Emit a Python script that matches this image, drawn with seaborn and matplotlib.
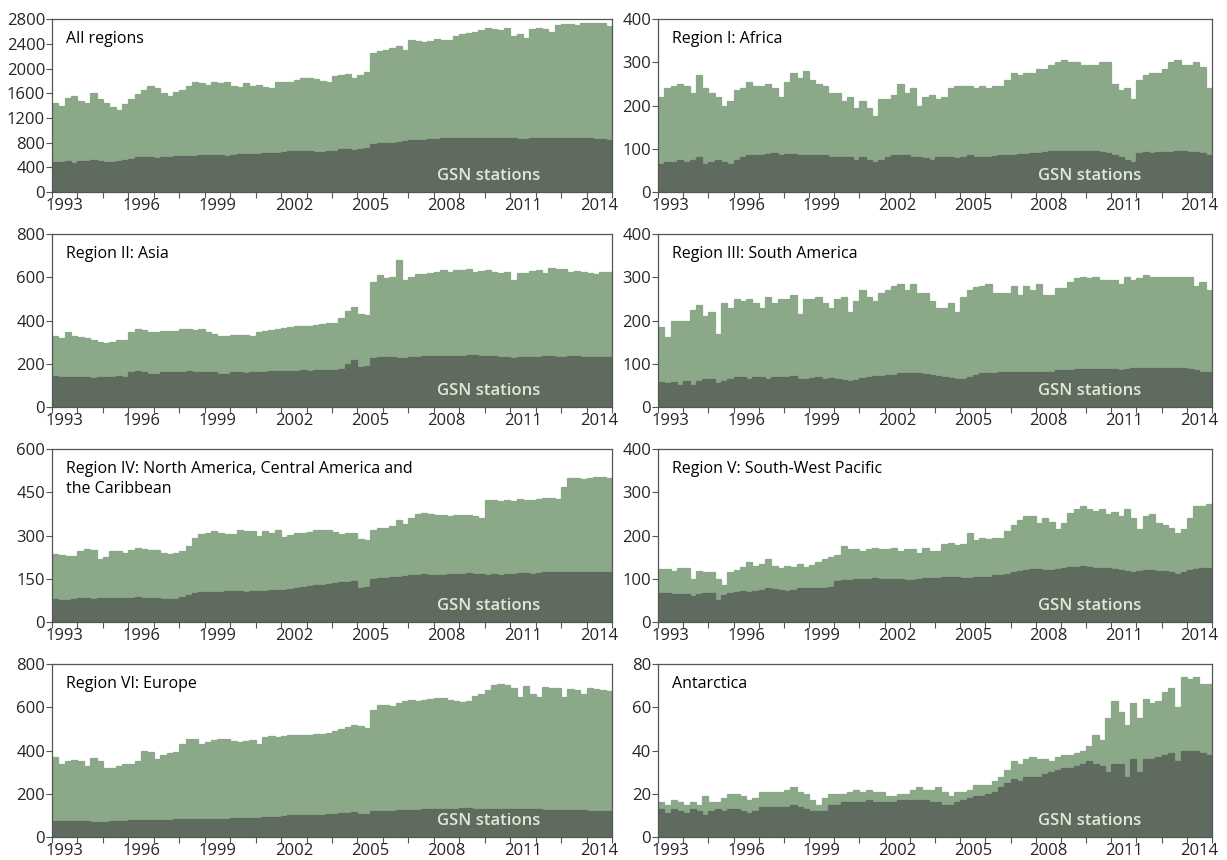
import numpy as np
import matplotlib
matplotlib.use("Agg")
import matplotlib.pyplot as plt
import seaborn as sns

# quarterly station counts, 1993 Q1 .. 2014 Q4
years = list(range(1993, 2015))

all_total = [1450, 1400, 1520, 1560, 1480, 1450, 1600, 1500, 1450, 1380, 1330, 1430,
             1500, 1580, 1650, 1720, 1680, 1600, 1560, 1620, 1650, 1720, 1780, 1760,
             1740, 1780, 1760, 1780, 1720, 1700, 1760, 1720, 1740, 1700, 1680, 1780,
             1780, 1790, 1820, 1850, 1850, 1830, 1800, 1780, 1880, 1900, 1920, 1850,
             1900, 1950, 2260, 2280, 2300, 2330, 2370, 2300, 2460, 2440, 2430, 2440,
             2480, 2460, 2470, 2520, 2560, 2580, 2600, 2620, 2650, 2640, 2620, 2650,
             2520, 2560, 2500, 2640, 2650, 2640, 2600, 2700, 2720, 2720, 2700, 2740,
             2740, 2740, 2730, 2690]
all_gsn = [490, 480, 500, 470, 500, 510, 520, 500, 480, 490, 510, 520,
           540, 560, 570, 560, 550, 560, 570, 580, 580, 580, 590, 600,
           600, 600, 600, 590, 600, 610, 610, 620, 620, 630, 640, 640,
           650, 660, 670, 670, 660, 650, 650, 660, 670, 690, 700, 680,
           690, 720, 780, 790, 790, 800, 810, 820, 840, 850, 850, 860,
           860, 870, 870, 880, 880, 880, 880, 880, 880, 875, 870, 870,
           870, 860, 860, 870, 870, 870, 870, 870, 870, 870, 870, 870,
           870, 860, 860, 850]

africa_total = [220, 240, 245, 250, 245, 230, 270, 240, 230, 220, 200, 210,
                235, 240, 255, 245, 245, 250, 240, 220, 255, 275, 265, 280,
                260, 250, 245, 230, 230, 210, 220, 195, 210, 195, 175, 215,
                215, 225, 250, 230, 240, 200, 220, 225, 215, 220, 240, 245,
                245, 245, 240, 245, 240, 245, 245, 260, 275, 270, 275, 275,
                285, 285, 295, 300, 305, 300, 300, 295, 295, 295, 300, 300,
                250, 235, 240, 215, 260, 270, 275, 275, 285, 300, 305, 295,
                295, 300, 290, 240]
africa_gsn = [65, 70, 70, 75, 70, 75, 80, 65, 70, 75, 70, 65,
              75, 80, 85, 85, 85, 88, 90, 85, 88, 88, 85, 85,
              85, 85, 85, 82, 80, 80, 80, 75, 80, 75, 70, 75,
              80, 85, 85, 85, 82, 80, 78, 75, 80, 82, 80, 78,
              82, 85, 82, 80, 82, 83, 85, 85, 85, 88, 88, 90,
              90, 92, 95, 95, 95, 95, 95, 95, 95, 95, 92, 90,
              85, 80, 75, 70, 90, 92, 90, 92, 92, 93, 95, 95,
              93, 92, 90, 85]

asia_total = [330, 320, 345, 330, 325, 320, 310, 300, 295, 300, 310, 310,
              345, 362, 355, 345, 345, 350, 350, 350, 360, 360, 355, 360,
              345, 340, 330, 330, 335, 335, 335, 330, 345, 350, 355, 360,
              365, 370, 375, 375, 375, 380, 385, 390, 390, 410, 445, 465,
              430, 425, 580, 610, 595, 600, 680, 590, 600, 615, 615, 620,
              625, 635, 625, 635, 635, 640, 625, 630, 635, 625, 620, 625,
              590, 620, 620, 630, 635, 620, 645, 640, 640, 625, 630, 625,
              620, 615, 625, 625]
asia_gsn = [145, 140, 140, 140, 140, 140, 135, 140, 140, 140, 145, 140,
            160, 165, 160, 155, 155, 160, 160, 160, 160, 165, 160, 160,
            160, 160, 155, 155, 160, 160, 158, 160, 160, 162, 165, 165,
            165, 168, 168, 170, 168, 170, 170, 170, 170, 175, 200, 220,
            185, 188, 225, 230, 230, 230, 228, 228, 230, 232, 235, 235,
            238, 238, 238, 238, 238, 240, 240, 238, 235, 235, 232, 232,
            225, 230, 232, 232, 232, 235, 235, 232, 232, 235, 235, 232,
            232, 232, 230, 230]

samerica_total = [185, 163, 200, 200, 200, 225, 235, 210, 220, 170, 240, 230,
                  250, 245, 250, 240, 230, 255, 240, 250, 250, 260, 215, 250,
                  250, 255, 240, 230, 250, 255, 220, 245, 270, 255, 245, 265,
                  270, 280, 285, 270, 285, 265, 265, 245, 230, 230, 240, 220,
                  255, 270, 278, 280, 285, 265, 265, 265, 280, 260, 280, 270,
                  285, 260, 260, 275, 275, 290, 298, 300, 298, 300, 295, 295,
                  295, 285, 300, 295, 298, 305, 302, 300, 302, 302, 302, 302,
                  300, 280, 290, 270]
samerica_gsn = [58, 55, 58, 50, 60, 50, 60, 65, 65, 55, 60, 65,
                70, 70, 65, 70, 70, 65, 70, 70, 70, 72, 65, 65,
                68, 70, 65, 68, 65, 62, 60, 62, 68, 70, 72, 72,
                75, 75, 78, 78, 78, 78, 76, 75, 72, 70, 68, 65,
                65, 70, 75, 78, 78, 78, 80, 80, 80, 80, 82, 82,
                82, 80, 82, 85, 85, 85, 87, 88, 88, 88, 88, 88,
                88, 85, 88, 90, 90, 90, 90, 90, 90, 90, 90, 90,
                88, 85, 82, 80]

namerica_total = [235, 232, 230, 228, 245, 255, 250, 220, 225, 245, 245, 240,
                  250, 258, 255, 250, 250, 240, 235, 240, 245, 265, 290, 305,
                  310, 315, 310, 305, 305, 320, 315, 315, 300, 315, 310, 318,
                  295, 303, 308, 310, 312, 318, 320, 318, 312, 305, 310, 310,
                  288, 285, 320, 325, 325, 335, 355, 340, 360, 375, 378, 375,
                  372, 372, 368, 370, 372, 370, 368, 362, 425, 425, 420, 422,
                  420, 428, 425, 425, 428, 430, 430, 428, 470, 500, 500, 495,
                  500, 502, 505, 500]
namerica_gsn = [80, 78, 78, 80, 82, 82, 80, 82, 82, 85, 85, 85,
                85, 88, 85, 85, 82, 80, 80, 80, 88, 95, 100, 105,
                105, 105, 105, 108, 108, 108, 105, 108, 108, 108, 110, 110,
                112, 115, 118, 120, 125, 128, 130, 132, 135, 138, 140, 142,
                118, 120, 150, 152, 152, 155, 158, 160, 162, 165, 168, 165,
                165, 165, 168, 168, 168, 170, 168, 168, 165, 166, 165, 168,
                168, 170, 170, 168, 170, 172, 172, 172, 172, 175, 175, 175,
                172, 172, 172, 172]

swpacific_total = [123, 122, 118, 125, 125, 100, 118, 115, 115, 100, 85, 115,
                   120, 128, 138, 130, 135, 145, 130, 125, 130, 128, 135, 128,
                   132, 140, 145, 150, 155, 175, 170, 170, 165, 170, 172, 168,
                   170, 172, 165, 168, 168, 160, 172, 165, 165, 180, 182, 178,
                   180, 205, 190, 195, 192, 195, 195, 210, 225, 235, 245, 245,
                   230, 240, 232, 215, 230, 252, 262, 268, 262, 258, 262, 250,
                   255, 245, 262, 240, 215, 245, 250, 230, 225, 218, 205, 215,
                   240, 268, 268, 272]
swpacific_gsn = [68, 67, 66, 65, 65, 60, 66, 68, 68, 50, 62, 68,
                 70, 72, 70, 72, 75, 78, 76, 75, 72, 75, 78, 78,
                 78, 78, 78, 80, 95, 98, 98, 100, 100, 100, 102, 100,
                 100, 100, 100, 98, 98, 100, 102, 102, 102, 104, 104, 105,
                 103, 103, 105, 105, 105, 108, 110, 112, 115, 118, 120, 122,
                 122, 120, 120, 122, 125, 128, 128, 130, 128, 125, 125, 124,
                 122, 120, 118, 115, 118, 120, 120, 118, 118, 115, 112, 115,
                 120, 122, 124, 125]

europe_total = [370, 340, 350, 355, 350, 330, 365, 350, 320, 320, 330, 340,
                340, 350, 400, 395, 360, 380, 390, 392, 430, 452, 455, 430,
                442, 450, 455, 455, 445, 440, 445, 448, 430, 462, 468, 465,
                468, 472, 470, 472, 474, 475, 478, 480, 490, 500, 510, 520,
                512, 505, 590, 610, 610, 608, 620, 630, 632, 630, 632, 638,
                645, 642, 636, 630, 625, 628, 655, 662, 680, 705, 708, 705,
                690, 650, 700, 660, 650, 695, 690, 690, 650, 685, 680, 660,
                688, 685, 680, 675]
europe_gsn = [72, 72, 72, 72, 72, 72, 70, 70, 70, 72, 72, 75,
              78, 80, 80, 80, 78, 80, 80, 82, 82, 85, 85, 85,
              85, 85, 85, 85, 88, 88, 90, 90, 90, 92, 95, 95,
              98, 100, 100, 100, 102, 102, 104, 105, 108, 110, 112, 115,
              105, 105, 120, 122, 122, 122, 124, 125, 125, 126, 128, 130,
              132, 132, 132, 132, 133, 133, 132, 132, 132, 132, 132, 130,
              130, 128, 128, 128, 128, 127, 127, 126, 125, 125, 123, 123,
              122, 122, 120, 120]

antarctica_total = [16, 15, 17, 16, 15, 16, 15, 19, 16, 16, 18, 20,
                    20, 19, 17, 18, 21, 21, 21, 21, 22, 23, 21, 20,
                    17, 15, 18, 20, 20, 20, 21, 22, 21, 22, 21, 21,
                    19, 19, 20, 20, 22, 23, 22, 22, 23, 21, 19, 21,
                    21, 22, 24, 24, 24, 26, 28, 31, 35, 34, 36, 37,
                    36, 36, 35, 37, 38, 38, 39, 40, 42, 47, 45, 55,
                    63, 58, 52, 62, 55, 64, 62, 63, 67, 69, 60, 74,
                    73, 74, 71, 71]
antarctica_gsn = [13, 11, 13, 12, 11, 13, 12, 10, 12, 13, 12, 13,
                  13, 12, 11, 12, 14, 14, 14, 14, 14, 15, 14, 13,
                  12, 12, 12, 15, 15, 16, 16, 16, 16, 17, 16, 16,
                  16, 16, 17, 17, 17, 17, 17, 16, 16, 15, 15, 16,
                  17, 18, 19, 19, 20, 21, 23, 25, 27, 26, 28, 28,
                  28, 29, 30, 31, 32, 32, 33, 34, 35, 34, 33, 30,
                  34, 34, 28, 36, 30, 36, 36, 37, 38, 39, 35, 40,
                  40, 40, 39, 38]

titles = ["All regions", "Region I: Africa", "Region II: Asia",
          "Region III: South America",
          "Region IV: North America, Central America and\nthe Caribbean",
          "Region V: South-West Pacific", "Region VI: Europe", "Antarctica"]
totals = [all_total, africa_total, asia_total, samerica_total,
          namerica_total, swpacific_total, europe_total, antarctica_total]
gsns = [all_gsn, africa_gsn, asia_gsn, samerica_gsn,
        namerica_gsn, swpacific_gsn, europe_gsn, antarctica_gsn]
ymax = [2800, 400, 800, 400, 600, 400, 800, 80]
ystep = [400, 100, 200, 100, 150, 100, 200, 20]
year_labels = ["1993", "1996", "1999", "2002", "2005", "2008", "2011", "2014"]

light = "#8ba888"
dark = "#5f6b5e"

sns.set_theme(style="ticks")
plt.rcParams["font.family"] = ["Open Sans", "DejaVu Sans"]

# bar centres at the middle of each quarter
xq = [y + (q + 0.5) / 4 for y in years for q in range(4)]

fig = plt.figure(figsize=(12.27, 8.6), dpi=100)
lefts = [0.0424, 0.5363]
widths = [0.4564, 0.4515]
bottoms = [0.7767, 0.5267, 0.2767, 0.0267]
height = 0.201

for i in range(8):
    row, col = divmod(i, 2)
    ax = fig.add_axes([lefts[col], bottoms[row], widths[col], height])
    sns.barplot(x=xq, y=totals[i], native_scale=True, width=1, color=light,
                saturation=1, edgecolor=light, linewidth=0.9, errorbar=None, ax=ax)
    sns.barplot(x=xq, y=gsns[i], native_scale=True, width=1, color=dark,
                saturation=1, edgecolor=dark, linewidth=0.9, errorbar=None, ax=ax)

    ax.set_xlim(1993, 2015)
    ax.set_ylim(0, ymax[i])
    ax.set_yticks(np.arange(0, ymax[i] + 1, ystep[i]))
    ax.set_xticks(range(1993, 2016), labels=[])
    ax.set_xticks([int(s) + 0.5 for s in year_labels], labels=year_labels, minor=True)
    ax.tick_params(axis="x", which="minor", length=0, labelsize=12, pad=4)
    ax.tick_params(axis="x", which="major", length=4, color="#555555", width=0.8)
    ax.tick_params(axis="y", length=4, color="#555555", width=0.8, labelsize=12, pad=1)
    ax.set_xlabel("")
    ax.set_ylabel("")
    for s in ax.spines.values():
        s.set_color("#555555")
        s.set_linewidth(0.9)

    ax.text(0.025, 0.93, titles[i], transform=ax.transAxes, ha="left", va="top",
            fontsize=11.5, color="black", linespacing=1.3)
    ax.text(0.78, 0.09, "GSN stations", transform=ax.transAxes, ha="center",
            va="center", fontsize=12, color="#dcebd3", fontweight="semibold")

fig.savefig("out.png", dpi=100)
